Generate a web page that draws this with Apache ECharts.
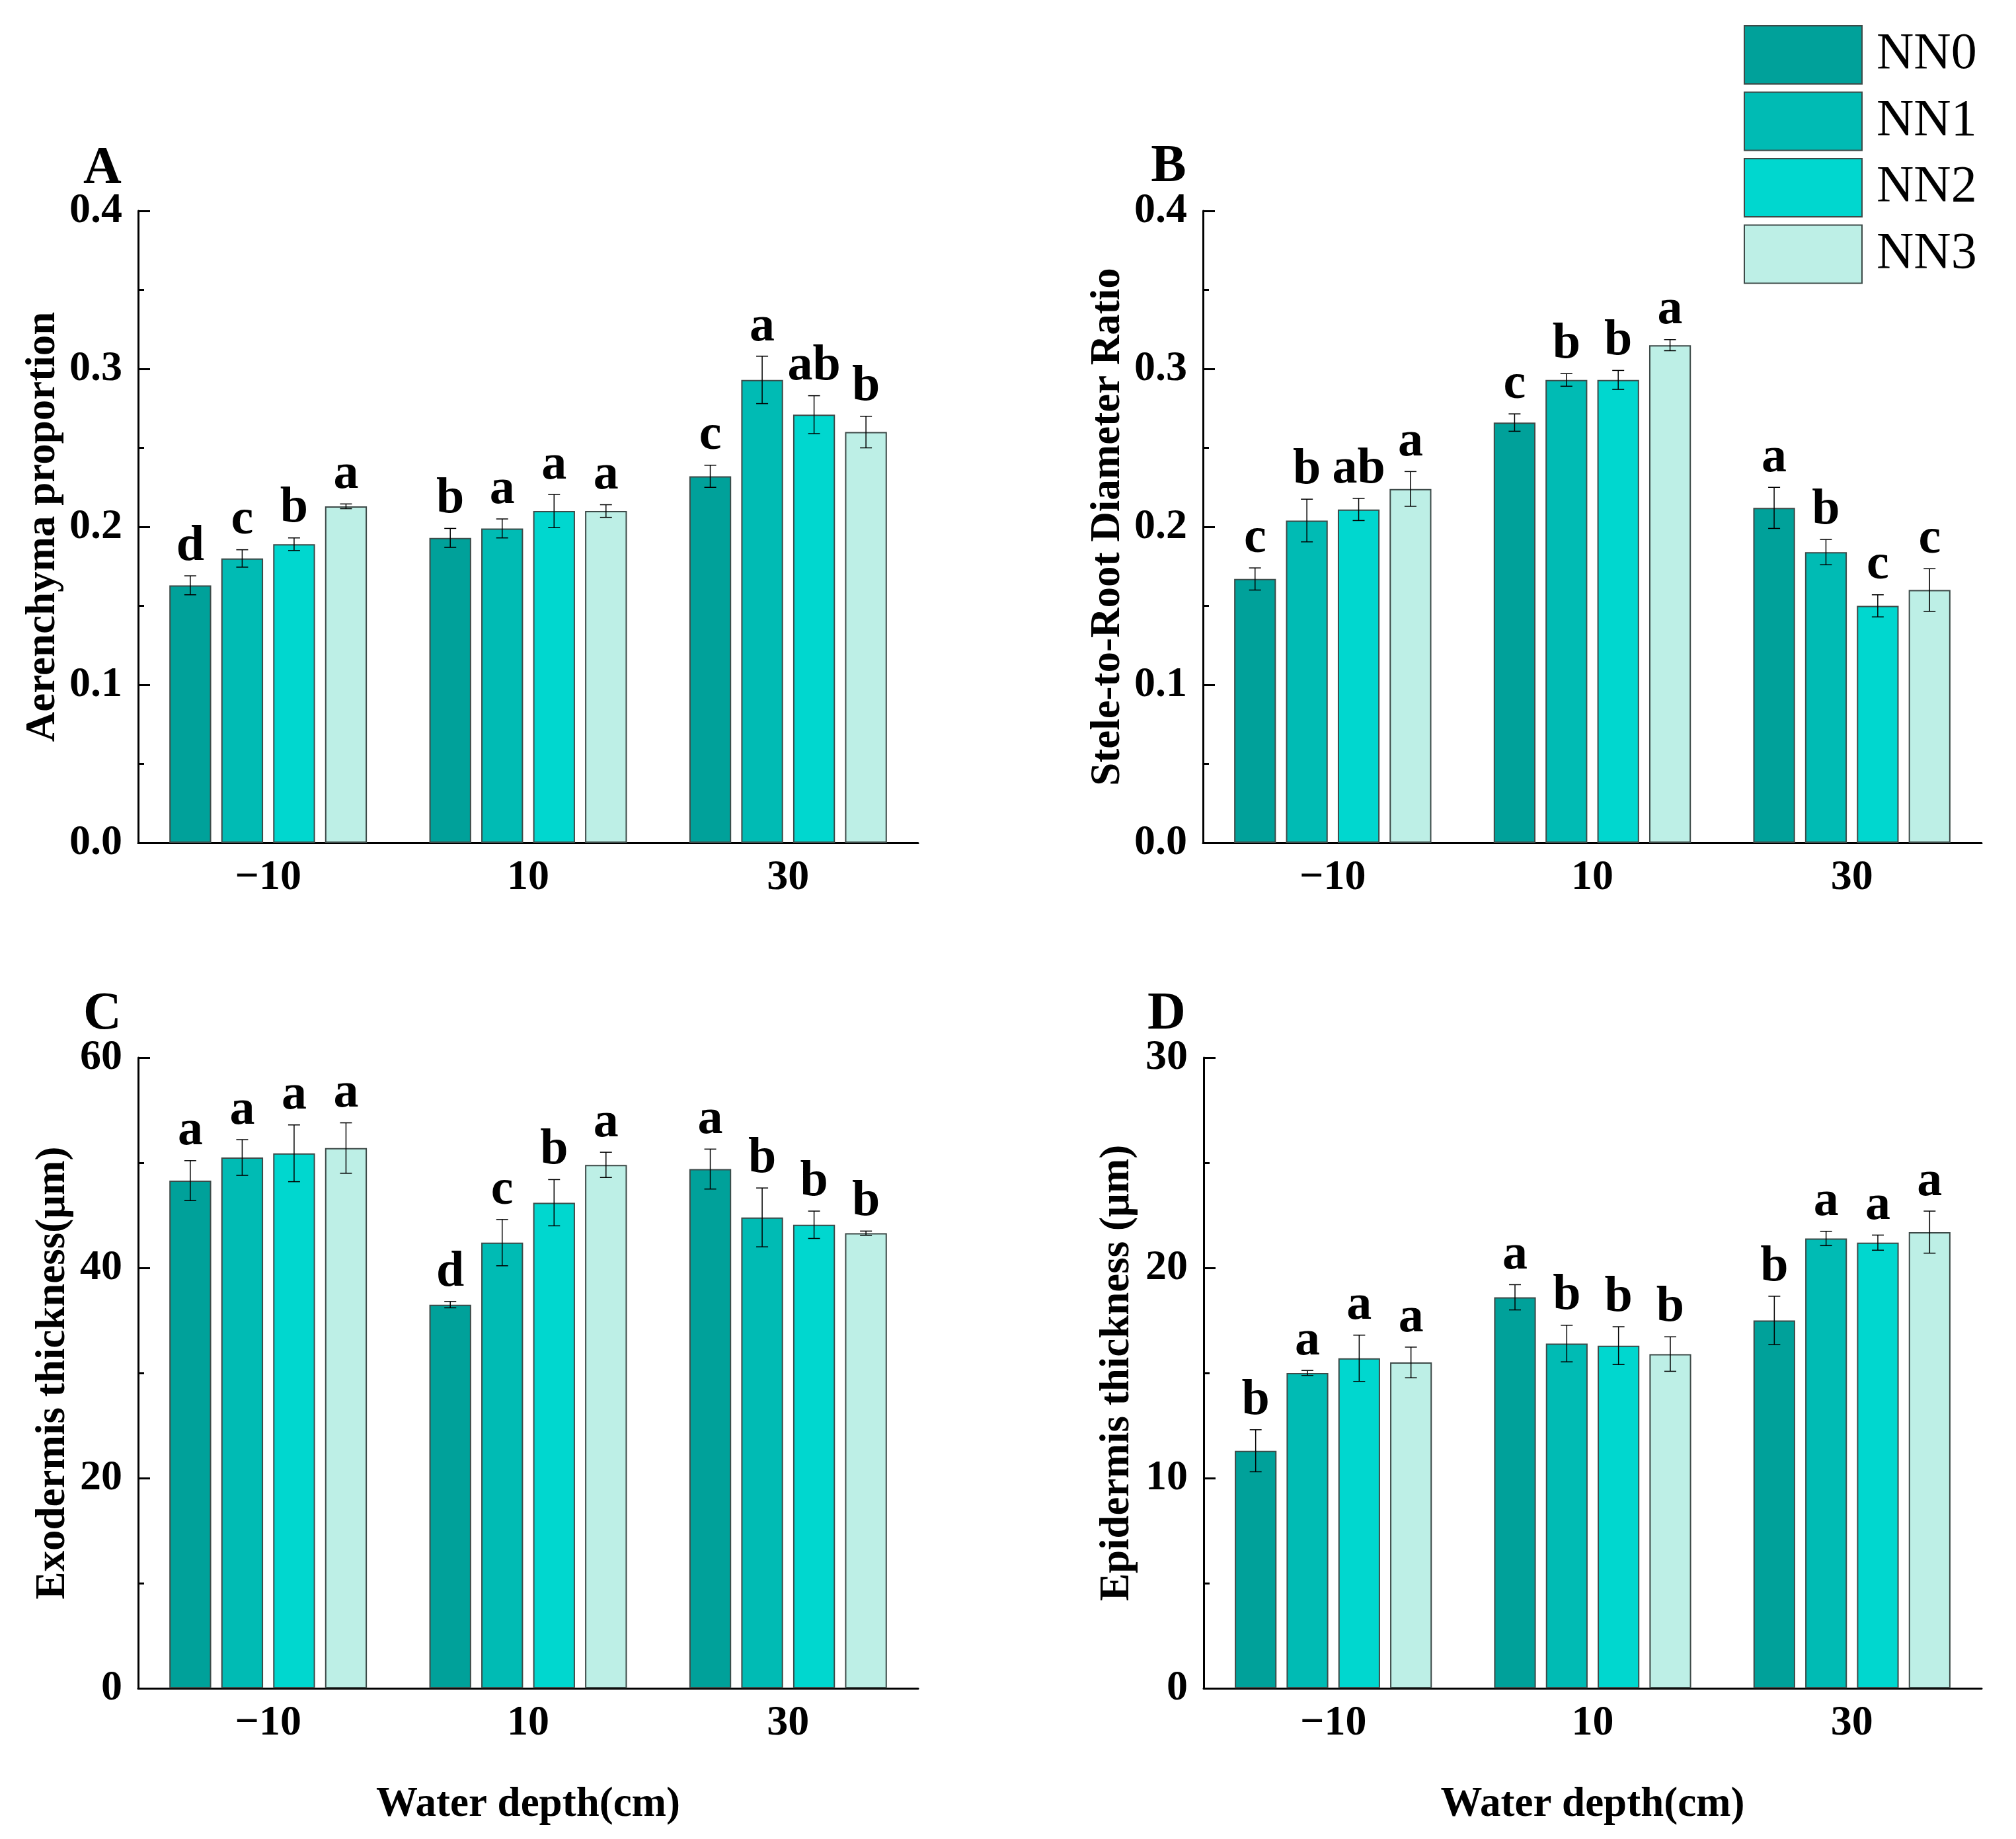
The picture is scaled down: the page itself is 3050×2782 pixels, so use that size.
<!DOCTYPE html>
<html><head><meta charset="utf-8">
<script src="https://cdn.jsdelivr.net/npm/echarts@6/dist/echarts.min.js"></script>
<style>html,body{margin:0;padding:0;background:#fff}#c{width:3050px;height:2782px}</style>
</head><body><div id="c"></div>
<script>
// ---------- data ----------
const categories = ['\u221210', '10', '30'];
const seriesNames = ['NN0', 'NN1', 'NN2', 'NN3'];

// A: Aerenchyma proportion  (rows = NN0..NN3, cols = -10,10,30)
const aerMean = [[0.163, 0.193, 0.232], [0.180, 0.199, 0.293], [0.189, 0.210, 0.271], [0.213, 0.210, 0.260]];
const aerErr  = [[0.006, 0.006, 0.007], [0.0055, 0.006, 0.015], [0.004, 0.0105, 0.012], [0.0015, 0.004, 0.010]];
const aerLetters = [['d', 'b', 'c'], ['c', 'a', 'a'], ['b', 'a', 'ab'], ['a', 'a', 'b']];

// B: Stele-to-Root Diameter Ratio
const steleMean = [[0.167, 0.266, 0.212], [0.204, 0.293, 0.184], [0.211, 0.293, 0.150], [0.224, 0.315, 0.160]];
const steleErr  = [[0.007, 0.0055, 0.013], [0.0135, 0.004, 0.008], [0.007, 0.006, 0.007], [0.011, 0.0035, 0.0135]];
const steleLetters = [['c', 'c', 'a'], ['b', 'b', 'b'], ['ab', 'b', 'c'], ['a', 'a', 'c']];

// C: Exodermis thickness (um)
const exoMean = [[48.3, 36.5, 49.4], [50.5, 42.4, 44.8], [50.9, 46.2, 44.1], [51.4, 49.8, 43.3]];
const exoErr  = [[1.9, 0.3, 1.9], [1.7, 2.2, 2.8], [2.7, 2.2, 1.3], [2.4, 1.2, 0.2]];
const exoLetters = [['a', 'd', 'a'], ['a', 'c', 'b'], ['a', 'b', 'b'], ['a', 'a', 'b']];

// D: Epidermis thickness (um)
const epiMean = [[11.3, 18.6, 17.5], [15.0, 16.4, 21.4], [15.7, 16.3, 21.2], [15.5, 15.9, 21.7]];
const epiErr  = [[1.0, 0.6, 1.15], [0.12, 0.87, 0.34], [1.1, 0.9, 0.36], [0.73, 0.82, 1.0]];
const epiLetters = [['b', 'a', 'b'], ['a', 'b', 'a'], ['a', 'b', 'a'], ['a', 'b', 'a']];

const yTicksA = [0, 0.4, 0.1];
const yTicksB = [0, 0.4, 0.1];
const yTicksC = [0, 60, 20];
const yTicksD = [0, 30, 10];

// ---------- styles / layout ----------
const FONT = '"Liberation Serif", "Times New Roman", serif';
const colors = ['#00A19A', '#00BBB4', '#00D7CF', '#BDEFE6'];
const BW_FRAC = 0.161, GAP_FRAC = 0.24;

const panels = [
  { tag: 'A', mean: aerMean, err: aerErr, letters: aerLetters, ticks: yTicksA, dec: 1,
    name: 'Aerenchyma proportion', nameGap: 112, grid: { left: 209, top: 319, width: 1180, height: 956 },
    tagPos: [155, 296], xName: '' },
  { tag: 'B', mean: steleMean, err: steleErr, letters: steleLetters, ticks: yTicksB, dec: 1,
    name: 'Stele-to-Root Diameter Ratio', nameGap: 112, grid: { left: 1820, top: 319, width: 1178, height: 956 },
    tagPos: [1768, 293], xName: '' },
  { tag: 'C', mean: exoMean, err: exoErr, letters: exoLetters, ticks: yTicksC, dec: 0,
    name: 'Exodermis thickness(\u03bcm)', nameGap: 97, grid: { left: 209, top: 1600, width: 1180, height: 954 },
    tagPos: [155, 1575], xName: 'Water depth(cm)' },
  { tag: 'D', mean: epiMean, err: epiErr, letters: epiLetters, ticks: yTicksD, dec: 0,
    name: 'Epidermis thickness (\u03bcm)', nameGap: 99, grid: { left: 1821, top: 1600, width: 1177, height: 954 },
    tagPos: [1765, 1575], xName: 'Water depth(cm)' }
];

const grid = [], xAxis = [], yAxis = [], series = [], graphic = [];

panels.forEach((p, pi) => {
  grid.push(Object.assign({ containLabel: false }, p.grid));
  xAxis.push({
    type: 'category', gridIndex: pi, data: categories,
    axisLine: { lineStyle: { color: '#000', width: 3 } },
    axisTick: { show: false },
    axisLabel: { color: '#000', fontFamily: FONT, fontWeight: 'bold', fontSize: 64, margin: 21 },
    name: p.xName, nameLocation: 'middle', nameGap: 145,
    nameTextStyle: { color: '#000', fontFamily: FONT, fontWeight: 'bold', fontSize: 63 }
  });
  yAxis.push({
    type: 'value', gridIndex: pi, min: p.ticks[0], max: p.ticks[1], interval: p.ticks[2],
    axisLine: { show: true, lineStyle: { color: '#000', width: 3 } },
    axisTick: { show: true, inside: true, length: 18, lineStyle: { color: '#000', width: 3 } },
    minorTick: { show: true, splitNumber: 2, length: 9, lineStyle: { color: '#000', width: 3 } },
    splitLine: { show: false },
    axisLabel: { color: '#000', fontFamily: FONT, fontWeight: 'bold', fontSize: 64, margin: 24,
      formatter: v => v.toFixed(p.dec) },
    name: p.name, nameLocation: 'middle', nameGap: p.nameGap, nameRotate: 90,
    nameTextStyle: { color: '#000', fontFamily: FONT, fontWeight: 'bold', fontSize: 63 }
  });
  seriesNames.forEach((sn, si) => {
    series.push({
      type: 'bar', name: sn, xAxisIndex: pi, yAxisIndex: pi,
      data: p.mean[si], barWidth: (BW_FRAC * 100) + '%', barGap: (GAP_FRAC * 100) + '%',
      itemStyle: { color: colors[si], borderColor: '#3d4a48', borderWidth: 2 },
      emphasis: { disabled: true }, silent: true
    });
  });
  const errData = [];
  seriesNames.forEach((sn, si) => {
    categories.forEach((c, ci) => {
      errData.push([ci, si, p.mean[si][ci], p.err[si][ci], p.letters[si][ci]]);
    });
  });
  series.push({
    type: 'custom', xAxisIndex: pi, yAxisIndex: pi, z: 10, silent: true,
    data: errData,
    renderItem: (params, api) => {
      const d = errData[params.dataIndex];
      const ci = d[0], si = d[1], v = d[2], e = d[3], letter = d[4];
      const catW = api.size([1, 0])[0];
      const bw = catW * BW_FRAC, gap = bw * GAP_FRAC;
      const off = (si - 1.5) * (bw + gap);
      const top = api.coord([ci, v + e]);
      const bot = api.coord([ci, v - e]);
      const x = top[0] + off;
      const cap = 9;
      const ls = { stroke: '#000', lineWidth: 1.5 };
      return {
        type: 'group', children: [
          { type: 'line', shape: { x1: x, y1: top[1], x2: x, y2: bot[1] }, style: ls },
          { type: 'line', shape: { x1: x - cap, y1: top[1], x2: x + cap, y2: top[1] }, style: ls },
          { type: 'line', shape: { x1: x - cap, y1: bot[1], x2: x + cap, y2: bot[1] }, style: ls },
          { type: 'text', x: x, y: top[1] - 6,
            style: { text: letter, fill: '#000', font: 'bold 76px ' + FONT, textAlign: 'center', textVerticalAlign: 'bottom' } }
        ]
      };
    }
  });
  graphic.push({
    type: 'text', x: p.tagPos[0], y: p.tagPos[1],
    style: { text: p.tag, fill: '#000', font: 'bold 80px ' + FONT, textAlign: 'center', textVerticalAlign: 'bottom' }
  });
});

const chart = echarts.init(document.getElementById('c'), null, { renderer: 'canvas' });
chart.setOption({
  backgroundColor: '#fff',
  animation: false,
  grid, xAxis, yAxis, series, graphic,
  legend: {
    data: seriesNames, orient: 'vertical', left: 2638, top: 38, padding: 0,
    itemWidth: 178, itemHeight: 88, itemGap: 10.5, icon: 'rect',
    itemStyle: { borderColor: '#3d4a48', borderWidth: 2 },
    textStyle: { color: '#000', fontFamily: FONT, fontSize: 78, padding: [0, 0, 0, 17] },
    selectedMode: false
  }
});
</script>
</body></html>
